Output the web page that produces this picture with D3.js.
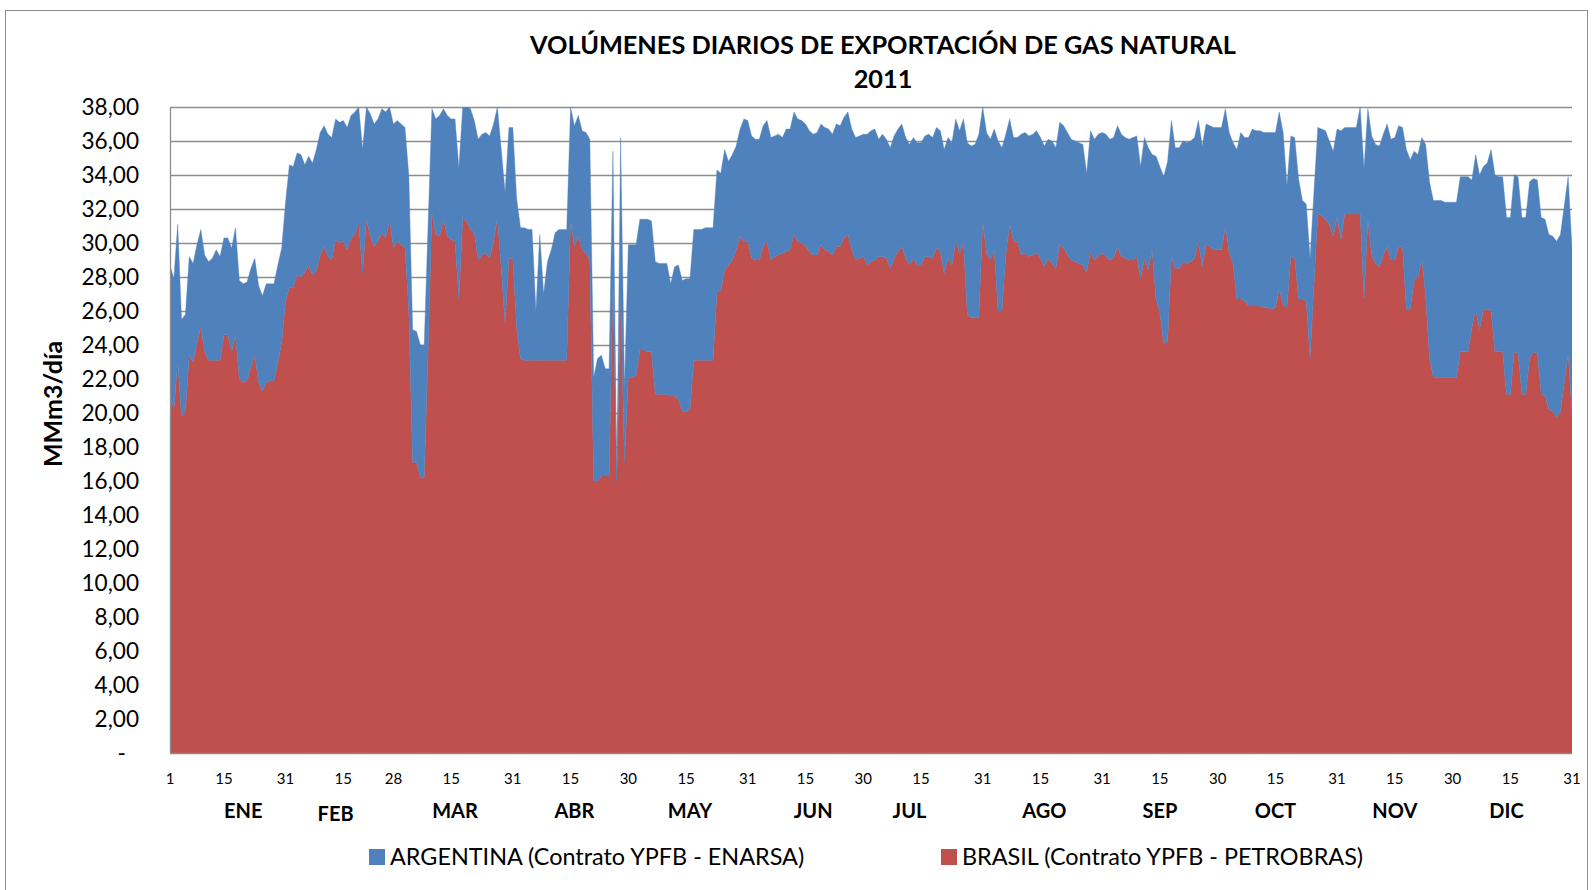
<!DOCTYPE html>
<html>
<head>
<meta charset="utf-8">
<script src="https://cdn.jsdelivr.net/npm/d3@7"></script>
<style>
  body { margin: 0; background: #fff; }
  svg { display: block; font-family: Lato, "Open Sans", sans-serif; }
</style>
</head>
<body>
<svg id="chart" width="1593" height="890"></svg>
<script>
// daily volumes, MMm3/dia
const brasilEne = [21.0, 20.2, 23.0, 19.8, 20.1, 23.4, 23.0, 24.1, 25.1, 23.6, 23.1, 23.1, 23.1, 23.1, 24.6, 24.6, 23.6, 24.6, 22.0, 21.8, 21.9, 22.7, 23.4, 21.8, 21.3, 21.8, 21.9, 21.9, 23.0, 24.1, 26.6]
const brasilFeb = [27.4, 27.4, 28.1, 28.0, 28.3, 28.7, 28.1, 28.4, 29.3, 29.8, 29.2, 29.0, 30.2, 30.0, 30.1, 29.6, 30.3, 30.5, 31.2, 28.2, 31.4, 30.4, 29.8, 30.1, 30.6, 30.3, 31.4, 29.7]
const brasilMar = [30.1, 29.9, 29.7, 26.0, 17.1, 17.1, 16.2, 16.2, 23.5, 31.8, 30.5, 30.4, 31.4, 30.4, 30.2, 30.1, 26.7, 31.5, 31.3, 30.8, 30.6, 29.0, 29.3, 29.4, 29.1, 30.1, 31.5, 28.5, 25.3, 29.1, 29.1]
const brasilAbr = [25.0, 23.2, 23.1, 23.1, 23.1, 23.1, 23.1, 23.1, 23.1, 23.1, 23.1, 23.1, 23.1, 23.1, 31.3, 29.8, 30.4, 29.6, 29.4, 29.0, 16.0, 16.0, 16.3, 16.3, 16.3, 27.7, 16.0, 26.9, 17.1, 22.1]
const brasilMay = [22.1, 22.2, 23.7, 23.7, 23.6, 23.6, 21.1, 21.1, 21.1, 21.1, 21.0, 21.0, 20.8, 20.1, 20.1, 20.2, 23.1, 23.1, 23.1, 23.1, 23.1, 23.1, 27.1, 27.2, 28.4, 28.7, 29.0, 29.6, 30.4, 30.1, 30.1]
const brasilJun = [29.1, 29.0, 29.0, 29.8, 30.1, 29.0, 29.2, 29.3, 29.4, 29.5, 29.6, 30.5, 30.1, 30.0, 29.8, 29.5, 29.3, 29.3, 29.9, 29.6, 29.5, 29.3, 29.8, 29.8, 30.3, 30.5, 29.6, 29.0, 29.1, 29.2]
const brasilJul = [28.7, 28.9, 29.0, 29.2, 29.2, 29.1, 28.5, 29.1, 29.5, 29.8, 29.1, 28.7, 29.1, 28.7, 28.7, 29.2, 29.2, 29.1, 29.7, 29.5, 28.2, 29.1, 28.7, 30.1, 29.4, 30.1, 25.8, 25.6, 25.6, 25.6, 31.3]
const brasilAgo = [29.4, 29.0, 29.6, 26.0, 26.0, 29.3, 31.1, 30.1, 30.1, 29.3, 29.4, 29.2, 29.3, 29.4, 29.1, 28.6, 29.1, 28.8, 28.5, 29.9, 29.7, 29.3, 29.0, 28.9, 28.8, 28.7, 28.3, 29.5, 29.0, 29.2, 29.4]
const brasilSep = [29.2, 29.0, 29.1, 29.8, 29.2, 29.1, 29.0, 29.0, 29.2, 27.9, 29.1, 28.4, 29.6, 26.7, 25.9, 24.1, 24.2, 29.2, 28.5, 28.5, 28.9, 28.8, 28.9, 29.1, 30.1, 28.6, 29.9, 29.8, 29.6, 29.6]
const brasilOct = [29.6, 31.0, 29.4, 28.8, 26.7, 26.7, 26.6, 26.3, 26.3, 26.3, 26.3, 26.2, 26.2, 26.1, 26.2, 27.3, 26.4, 26.2, 29.2, 29.1, 26.7, 26.7, 26.6, 23.2, 27.5, 31.7, 31.6, 31.4, 31.1, 30.4, 31.5]
const brasilNov = [30.2, 31.7, 31.7, 31.7, 31.7, 31.7, 26.7, 31.4, 29.3, 28.8, 28.6, 29.3, 29.8, 29.0, 29.0, 29.8, 29.8, 26.1, 26.1, 27.8, 28.0, 29.1, 26.9, 23.2, 22.1, 22.1, 22.1, 22.1, 22.1, 22.1]
const brasilDic = [22.1, 23.6, 23.6, 23.6, 25.0, 26.1, 24.9, 26.1, 26.1, 26.0, 23.6, 23.6, 23.6, 21.1, 21.1, 23.6, 23.5, 21.1, 21.1, 23.2, 23.6, 23.5, 21.1, 21.0, 20.2, 20.1, 19.7, 20.1, 21.8, 23.5, 19.9]

const argEne = [7.7, 7.7, 8.1, 5.7, 5.7, 5.8, 5.8, 5.8, 5.7, 5.7, 5.8, 6.0, 6.5, 6.1, 5.7, 5.7, 6.1, 6.3, 5.8, 5.8, 5.8, 5.8, 5.7, 5.7, 5.6, 5.8, 5.7, 5.7, 5.7, 5.6, 5.8]
const argFeb = [7.2, 7.1, 7.2, 7.2, 6.3, 6.4, 6.6, 7.1, 7.2, 7.1, 7.2, 7.2, 7.1, 7.1, 7.1, 7.2, 7.2, 7.2, 6.8, 7.3, 6.6, 7.2, 7.2, 7.2, 7.3, 7.4, 6.6, 7.3]
const argMar = [7.1, 7.1, 7.1, 8.0, 7.8, 7.7, 7.8, 7.8, 7.5, 6.1, 6.8, 7.1, 6.5, 7.1, 7.1, 7.2, 7.7, 6.5, 6.7, 7.1, 6.6, 7.1, 7.1, 7.1, 7.2, 6.9, 6.5, 7.0, 7.7, 7.7, 7.7]
const argAbr = [7.6, 7.7, 7.8, 7.7, 7.7, 2.9, 7.4, 3.9, 5.8, 6.5, 7.5, 7.7, 7.7, 7.7, 6.7, 7.1, 7.1, 7.0, 7.1, 7.1, 6.1, 7.2, 7.1, 6.3, 6.3, 7.7, 0.1, 9.3, 4.4, 7.8]
const argMay = [7.8, 7.7, 7.7, 7.7, 7.8, 7.7, 7.8, 7.7, 7.7, 7.7, 6.6, 7.6, 7.9, 7.7, 7.8, 7.7, 7.7, 7.7, 7.7, 7.8, 7.8, 7.8, 7.2, 6.9, 7.1, 6.1, 6.2, 6.1, 6.3, 7.2, 7.1]
const argJun = [7.2, 7.1, 7.1, 7.1, 7.1, 7.2, 7.1, 7.1, 6.8, 7.2, 7.1, 7.2, 7.2, 7.2, 7.2, 7.1, 7.1, 7.2, 7.1, 7.2, 7.2, 7.1, 7.2, 7.1, 7.1, 7.2, 7.1, 7.2, 7.2, 7.2]
const argJul = [7.7, 7.7, 7.7, 6.9, 7.2, 7.0, 7.1, 7.2, 7.2, 7.2, 7.1, 7.1, 7.1, 7.2, 7.2, 7.1, 7.2, 7.1, 7.1, 7.1, 7.3, 7.1, 7.2, 7.2, 7.2, 7.2, 10.1, 10.1, 10.2, 10.8, 6.7]
const argAgo = [7.1, 7.1, 7.1, 10.0, 9.6, 7.1, 6.2, 6.1, 6.1, 7.1, 7.1, 7.1, 7.1, 7.2, 7.1, 7.1, 7.0, 7.2, 7.1, 7.2, 7.2, 7.2, 7.1, 7.1, 7.1, 7.1, 5.8, 7.1, 7.1, 7.2, 7.1]
const argSep = [7.2, 7.1, 7.1, 7.1, 7.2, 7.1, 7.1, 7.2, 7.1, 6.6, 7.1, 7.2, 5.6, 8.4, 8.6, 9.8, 10.6, 8.0, 7.1, 7.1, 7.1, 7.1, 7.1, 7.1, 7.1, 7.1, 7.1, 7.1, 7.2, 7.2]
const argOct = [7.2, 6.9, 7.1, 7.1, 8.8, 9.8, 9.6, 9.9, 10.4, 10.3, 10.3, 10.3, 10.3, 10.4, 10.3, 10.4, 10.1, 7.2, 7.1, 7.1, 7.1, 5.8, 5.7, 5.9, 5.5, 5.1, 5.1, 5.2, 4.9, 5.0, 5.2]
const argNov = [6.4, 5.1, 5.1, 5.1, 5.1, 6.3, 7.7, 6.5, 7.0, 7.0, 7.1, 7.1, 7.2, 7.1, 7.2, 7.1, 7.0, 9.4, 8.8, 7.6, 7.2, 7.1, 8.9, 10.4, 10.4, 10.4, 10.4, 10.3, 10.3, 10.3]
const argDic = [10.3, 10.3, 10.3, 10.3, 8.7, 9.1, 9.1, 8.4, 8.6, 9.5, 10.4, 10.3, 10.3, 10.4, 10.4, 10.4, 10.4, 10.4, 10.4, 10.4, 10.2, 10.2, 10.4, 10.4, 10.3, 10.3, 10.4, 10.4, 10.4, 10.4, 9.8]

const brasil = [].concat(brasilEne, brasilFeb, brasilMar, brasilAbr, brasilMay, brasilJun, brasilJul, brasilAgo, brasilSep, brasilOct, brasilNov, brasilDic)
const argentina = [].concat(argEne, argFeb, argMar, argAbr, argMay, argJun, argJul, argAgo, argSep, argOct, argNov, argDic)

// day of year (1 based) where a tick label sits, and its text
const tickDays = [1, 15, 31, 46, 59, 74, 90, 105, 120, 135, 151, 166, 181, 196, 212, 227, 243, 258, 273, 288, 304, 319, 334, 349, 365]
const tickText = ["1", "15", "31", "15", "28", "15", "31", "15", "30", "15", "31", "15", "30", "15", "31", "15", "31", "15", "30", "15", "31", "15", "30", "15", "31"]
const months = ["ENE", "FEB", "MAR", "ABR", "MAY", "JUN", "JUL", "AGO", "SEP", "OCT", "NOV", "DIC"]
const monthDays = [20, 44, 75, 106, 136, 168, 193, 228, 258, 288, 319, 348]
const yTicks = d3.range(0, 39, 2)

const seriesNames = ["BRASIL (Contrato YPFB - PETROBRAS)", "ARGENTINA (Contrato YPFB - ENARSA)"]
const colors = {brasil: "#C0504D", argentina: "#4F81BD"}

const table = brasil.map((b, i) => ({day: i, brasil: b, argentina: argentina[i]}))

const svg = d3.select("#chart")
const plotL = 170, plotR = 1572, plotT = 107, plotB = 753

const x = d3.scaleLinear().domain([0, brasil.length - 1]).range([plotL, plotR])
const y = d3.scaleLinear().domain([0, 38]).range([plotB, plotT])

const locale = d3.formatLocale({decimal: ",", thousands: ".", grouping: [3], currency: ["", ""]})
const fmt = locale.format(".2f")

// outer frame
svg.append("rect")
  .attr("x", 5.5).attr("y", 10.5)
  .attr("width", 1582).attr("height", 900)
  .attr("fill", "none").attr("stroke", "#8c8c8c").attr("stroke-width", 1)

// gridlines
svg.append("g")
  .selectAll("line")
  .data(yTicks.filter(d => d > 0)).enter().append("line")
  .attr("x1", plotL).attr("x2", plotR)
  .attr("y1", d => Math.round(y(d)) + 0.5).attr("y2", d => Math.round(y(d)) + 0.5)
  .attr("stroke", "#8c8c8c").attr("stroke-width", 1.3)

// stacked areas
const stack = d3.stack().keys(["brasil", "argentina"])
const layers = stack(table)

svg.append("clipPath").attr("id", "plot")
  .append("rect").attr("x", plotL).attr("y", plotT).attr("width", plotR - plotL).attr("height", plotB - plotT)

const area = d3.area()
  .x(d => x(d.data.day))
  .y0(d => y(d[0]))
  .y1(d => y(d[1]))

svg.append("g").attr("clip-path", "url(#plot)")
  .selectAll("path")
  .data(layers).enter().append("path")
  .attr("d", area)
  .attr("fill", d => colors[d.key])
  .attr("stroke", d => colors[d.key])
  .attr("stroke-width", 0.4)

// axis lines
svg.append("line")
  .attr("x1", plotL + 0.5).attr("x2", plotL + 0.5).attr("y1", plotT).attr("y2", plotB)
  .attr("stroke", "#8c8c8c").attr("stroke-width", 1.3)
svg.append("line")
  .attr("x1", plotL).attr("x2", plotR).attr("y1", plotB + 0.5).attr("y2", plotB + 0.5)
  .attr("stroke", "#8c8c8c").attr("stroke-width", 1.3)

// y labels
svg.append("g")
  .selectAll("text")
  .data(yTicks).enter().append("text")
  .attr("x", d => d === 0 ? 126 : 139)
  .attr("y", d => y(d))
  .attr("dy", "0.35em")
  .attr("text-anchor", "end")
  .attr("font-size", 22.6)
  .attr("fill", "#000")
  .text(d => d === 0 ? "-" : fmt(d))

// x labels
svg.append("g")
  .selectAll("text")
  .data(tickDays).enter().append("text")
  .attr("x", d => x(d - 1))
  .attr("y", 784)
  .attr("text-anchor", "middle")
  .attr("font-size", 15)
  .text((d, i) => tickText[i])

svg.append("g")
  .selectAll("text")
  .data(months).enter().append("text")
  .attr("x", (d, i) => x(monthDays[i] - 1))
  .attr("y", (d, i) => i === 1 ? 821 : 818)
  .attr("text-anchor", "middle")
  .attr("font-size", 20)
  .attr("font-weight", "bold")
  .text(d => d)

// titles
svg.append("text")
  .attr("x", 883).attr("y", 54)
  .attr("text-anchor", "middle")
  .attr("font-size", 25.3).attr("font-weight", "bold")
  .text("VOLÚMENES DIARIOS DE EXPORTACIÓN DE GAS NATURAL")
svg.append("text")
  .attr("x", 883).attr("y", 88)
  .attr("text-anchor", "middle")
  .attr("font-size", 25.3).attr("font-weight", "bold")
  .text("2011")

svg.append("text")
  .attr("transform", "translate(62,404) rotate(-90)")
  .attr("text-anchor", "middle")
  .attr("font-size", 25).attr("font-weight", "bold")
  .text("MMm3/día")

// legend
const legend = [
  {name: seriesNames[1], key: "argentina", x: 369},
  {name: seriesNames[0], key: "brasil", x: 941}
]
const lg = svg.append("g").selectAll("g").data(legend).enter().append("g")
  .attr("transform", d => `translate(${d.x},849)`)
lg.append("rect").attr("width", 16).attr("height", 16).attr("fill", d => colors[d.key])
lg.append("text").attr("x", 21).attr("y", 16).attr("font-size", 23.4).text(d => d.name)
</script>
</body>
</html>
